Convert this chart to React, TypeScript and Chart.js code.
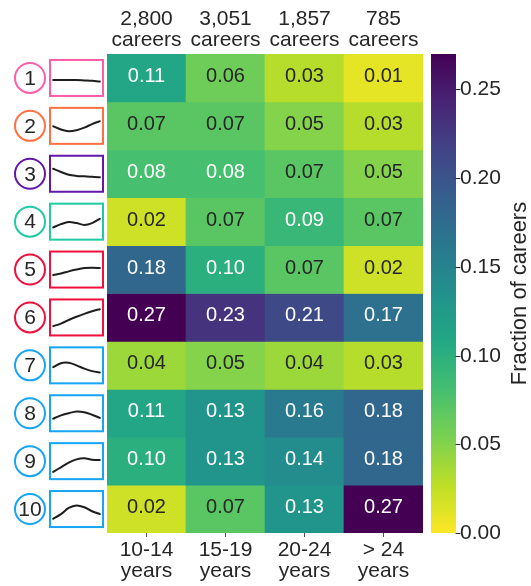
import React, { useEffect, useRef } from 'react';
import { Chart, registerables } from 'chart.js';

Chart.register(...registerables);

const FONT = '"Liberation Sans", Arial, Helvetica, sans-serif';
const TEXT_DARK = '#262626';

// ---- data ----
const ageGroups = [
  ['10-14', 'years'],
  ['15-19', 'years'],
  ['20-24', 'years'],
  ['> 24', 'years'],
];
const careerCounts = [
  ['2,800', 'careers'],
  ['3,051', 'careers'],
  ['1,857', 'careers'],
  ['785', 'careers'],
];
const trajectoryIds = ['1', '2', '3', '4', '5', '6', '7', '8', '9', '10'];
const trajectoryColors = [
  '#ff5ca8', '#ff7043', '#6218a8', '#1fcaa5', '#f0103c',
  '#f0103c', '#16a4f4', '#16a4f4', '#16a4f4', '#16a4f4',
];
const traj1 = [0.11, 0.06, 0.03, 0.01];
const traj2 = [0.07, 0.07, 0.05, 0.03];
const traj3 = [0.08, 0.08, 0.07, 0.05];
const traj4 = [0.02, 0.07, 0.09, 0.07];
const traj5 = [0.18, 0.10, 0.07, 0.02];
const traj6 = [0.27, 0.23, 0.21, 0.17];
const traj7 = [0.04, 0.05, 0.04, 0.03];
const traj8 = [0.11, 0.13, 0.16, 0.18];
const traj9 = [0.10, 0.13, 0.14, 0.18];
const traj10 = [0.02, 0.07, 0.13, 0.27];
const fractions = [traj1, traj2, traj3, traj4, traj5, traj6, traj7, traj8, traj9, traj10];

// pictogram shapes (fraction of box height from top, 7 samples across)
const trajectoryShapes = [
  [0.56, 0.56, 0.56, 0.56, 0.57, 0.58, 0.6],
  [0.51, 0.6, 0.65, 0.62, 0.55, 0.45, 0.37],
  [0.36, 0.45, 0.53, 0.56, 0.57, 0.58, 0.6],
  [0.66, 0.57, 0.51, 0.54, 0.59, 0.54, 0.42],
  [0.65, 0.61, 0.55, 0.5, 0.46, 0.45, 0.46],
  [0.74, 0.67, 0.57, 0.48, 0.4, 0.33, 0.27],
  [0.55, 0.44, 0.43, 0.5, 0.59, 0.66, 0.7],
  [0.65, 0.56, 0.5, 0.45, 0.47, 0.54, 0.63],
  [0.8, 0.67, 0.54, 0.45, 0.42, 0.46, 0.47],
  [0.77, 0.64, 0.47, 0.4, 0.45, 0.56, 0.64],
];

const colorbarTicks = [0, 0.05, 0.1, 0.15, 0.2, 0.25];
const colorMin = 0;
const colorMax = 0.27;
const colorbarLabel = 'Fraction of careers';

// ---- colormap (viridis) ----
const VIRIDIS = [
  '#440154', '#482475', '#414487', '#355f8d', '#2a788e', '#21918c',
  '#22a884', '#44bf70', '#7ad151', '#bddf26', '#fde725',
];
function hexToRgb(h: string) {
  return [parseInt(h.slice(1, 3), 16), parseInt(h.slice(3, 5), 16), parseInt(h.slice(5, 7), 16)];
}
function viridisRgb(t: number) {
  const tt = Math.max(0, Math.min(1, t)) * (VIRIDIS.length - 1);
  const i = Math.min(VIRIDIS.length - 2, Math.floor(tt));
  const f = tt - i;
  const a = hexToRgb(VIRIDIS[i]);
  const b = hexToRgb(VIRIDIS[i + 1]);
  return a.map((v, k) => Math.round(v + (b[k] - v) * f));
}
// reversed colormap: low = yellow, high = purple
function cellRgb(v: number) {
  return viridisRgb(1 - (v - colorMin) / (colorMax - colorMin));
}
function rgbStr(c: number[]) {
  return `rgb(${c[0]},${c[1]},${c[2]})`;
}
function relLum(c: number[]) {
  const l = c.map((v) => {
    const s = v / 255;
    return s <= 0.03928 ? s / 12.92 : Math.pow((s + 0.055) / 1.055, 2.4);
  });
  return 0.2126 * l[0] + 0.7152 * l[1] + 0.0722 * l[2];
}

const cellTextPlugin = {
  id: 'cellText',
  afterDatasetsDraw(chart: any) {
    const ctx = chart.ctx;
    ctx.save();
    ctx.font = `20px ${FONT}`;
    ctx.textAlign = 'center';
    ctx.textBaseline = 'middle';
    fractions.forEach((row, r) => {
      const meta = chart.getDatasetMeta(r);
      meta.data.forEach((el: any, c: number) => {
        const p = el.getProps(['x', 'y', 'base'], true);
        const v = row[c];
        const light = relLum(cellRgb(v)) > 0.408 && v < 0.075;
        ctx.fillStyle = light ? TEXT_DARK : '#ffffff';
        ctx.fillText(v.toFixed(2), p.x, (p.y + p.base) / 2 - 1.5);
      });
    });
    ctx.restore();
  },
};

function drawSmooth(ctx: CanvasRenderingContext2D, pts: number[][]) {
  ctx.beginPath();
  ctx.moveTo(pts[0][0], pts[0][1]);
  for (let i = 0; i < pts.length - 1; i++) {
    const p0 = pts[Math.max(0, i - 1)];
    const p1 = pts[i];
    const p2 = pts[i + 1];
    const p3 = pts[Math.min(pts.length - 1, i + 2)];
    const c1x = p1[0] + (p2[0] - p0[0]) / 6;
    const c1y = p1[1] + (p2[1] - p0[1]) / 6;
    const c2x = p2[0] - (p3[0] - p1[0]) / 6;
    const c2y = p2[1] - (p3[1] - p1[1]) / 6;
    ctx.bezierCurveTo(c1x, c1y, c2x, c2y, p2[0], p2[1]);
  }
  ctx.stroke();
}

const sidePlugin = {
  id: 'sideDecor',
  afterDraw(chart: any) {
    const ctx = chart.ctx as CanvasRenderingContext2D;
    const yS = chart.scales.y;
    const cS = chart.scales.y2;
    const area = chart.chartArea;
    ctx.save();

    // row markers: numbered circle + pictogram box
    trajectoryIds.forEach((id, r) => {
      const cy = yS.getPixelForValue(r + 0.5);
      const col = trajectoryColors[r];
      const cx = area.left - 77;
      ctx.lineWidth = 2;
      ctx.strokeStyle = col;
      ctx.beginPath();
      ctx.arc(cx, cy, 15, 0, Math.PI * 2);
      ctx.stroke();
      ctx.fillStyle = TEXT_DARK;
      ctx.font = `21px ${FONT}`;
      ctx.textAlign = 'center';
      ctx.textBaseline = 'middle';
      ctx.fillText(id, cx, cy + 1);

      const bx = area.left - 57;
      const bw = 53;
      const bh = 36;
      const by = cy - bh / 2;
      ctx.strokeStyle = col;
      ctx.lineWidth = 2;
      ctx.strokeRect(bx, by, bw, bh);

      const shape = trajectoryShapes[r];
      const pts = shape.map((f, i) => [
        bx + bw * (0.06 + (0.88 * i) / (shape.length - 1)),
        by + bh * f,
      ]);
      ctx.strokeStyle = '#1e1e1e';
      ctx.lineWidth = 2;
      ctx.lineCap = 'round';
      drawSmooth(ctx, pts);
    });

    // colorbar
    const x0 = area.right + 8;
    const w = 25;
    const yTop = cS.getPixelForValue(colorMax);
    const yBot = cS.getPixelForValue(colorMin);
    const grad = ctx.createLinearGradient(0, yBot, 0, yTop);
    VIRIDIS.forEach((h, i) => grad.addColorStop(1 - i / (VIRIDIS.length - 1), h));
    ctx.fillStyle = grad;
    ctx.fillRect(x0, yTop, w, yBot - yTop);

    ctx.strokeStyle = TEXT_DARK;
    ctx.lineWidth = 1;
    ctx.fillStyle = TEXT_DARK;
    ctx.font = `21px ${FONT}`;
    ctx.textAlign = 'left';
    ctx.textBaseline = 'middle';
    colorbarTicks.forEach((t) => {
      const y = Math.round(cS.getPixelForValue(t)) + 0.5;
      ctx.beginPath();
      ctx.moveTo(x0 + w, y);
      ctx.lineTo(x0 + w + 4, y);
      ctx.stroke();
      ctx.fillText(t.toFixed(2), x0 + w + 4, y);
    });

    ctx.save();
    ctx.translate(x0 + w + 64, (yTop + yBot) / 2);
    ctx.rotate(-Math.PI / 2);
    ctx.textAlign = 'center';
    ctx.textBaseline = 'middle';
    ctx.font = `22px ${FONT}`;
    ctx.fillText(colorbarLabel, 0, 0);
    ctx.restore();

    ctx.restore();
  },
};

export default function App() {
  const ref = useRef<HTMLCanvasElement | null>(null);
  useEffect(() => {
    document.body.style.margin = '0';
    const canvas = ref.current;
    if (!canvas) return;
    const chart = new Chart(canvas, {
      type: 'bar',
      data: {
        labels: ageGroups as any,
        datasets: fractions.map((row, r) => ({
          label: `Trajectory ${trajectoryIds[r]}`,
          data: row.map(() => [r, r + 1]) as any,
          backgroundColor: row.map((v) => rgbStr(cellRgb(v))),
          borderWidth: 0,
          barPercentage: 1,
          categoryPercentage: 1,
          grouped: false,
        })),
      },
      options: {
        animation: false,
        responsive: false,
        maintainAspectRatio: false,
        layout: { padding: { left: 107, right: 108, top: 0, bottom: 0 } },
        plugins: { legend: { display: false }, tooltip: { enabled: false } },
        scales: {
          x: {
            type: 'category',
            position: 'bottom',
            offset: true,
            grid: {
              display: true,
              drawOnChartArea: false,
              drawTicks: true,
              tickLength: 4,
              offset: false,
              color: '#555',
            },
            border: { display: false },
            ticks: {
              color: TEXT_DARK,
              padding: 3,
              maxRotation: 0,
              autoSkip: false,
              font: { family: FONT, size: 21, lineHeight: 1.0 },
            },
            afterFit: (s: any) => {
              s.height = 53;
            },
          },
          x2: {
            type: 'category',
            position: 'top',
            labels: careerCounts as any,
            offset: true,
            grid: { display: false, drawTicks: false, tickLength: 0 },
            border: { display: false },
            ticks: {
              color: TEXT_DARK,
              padding: 3,
              maxRotation: 0,
              autoSkip: false,
              font: { family: FONT, size: 21, lineHeight: 1.0 },
            },
            afterFit: (s: any) => {
              s.height = 54;
            },
          },
          y: { type: 'linear', min: 0, max: 10, reverse: true, display: false },
          y2: { type: 'linear', min: colorMin, max: colorMax, display: false, position: 'right' },
        },
      } as any,
      plugins: [cellTextPlugin, sidePlugin],
    });
    return () => chart.destroy();
  }, []);
  return (
    <div style={{ width: 531, height: 586, background: '#fff' }}>
      <canvas ref={ref} width={531} height={586} style={{ display: 'block' }} />
    </div>
  );
}
